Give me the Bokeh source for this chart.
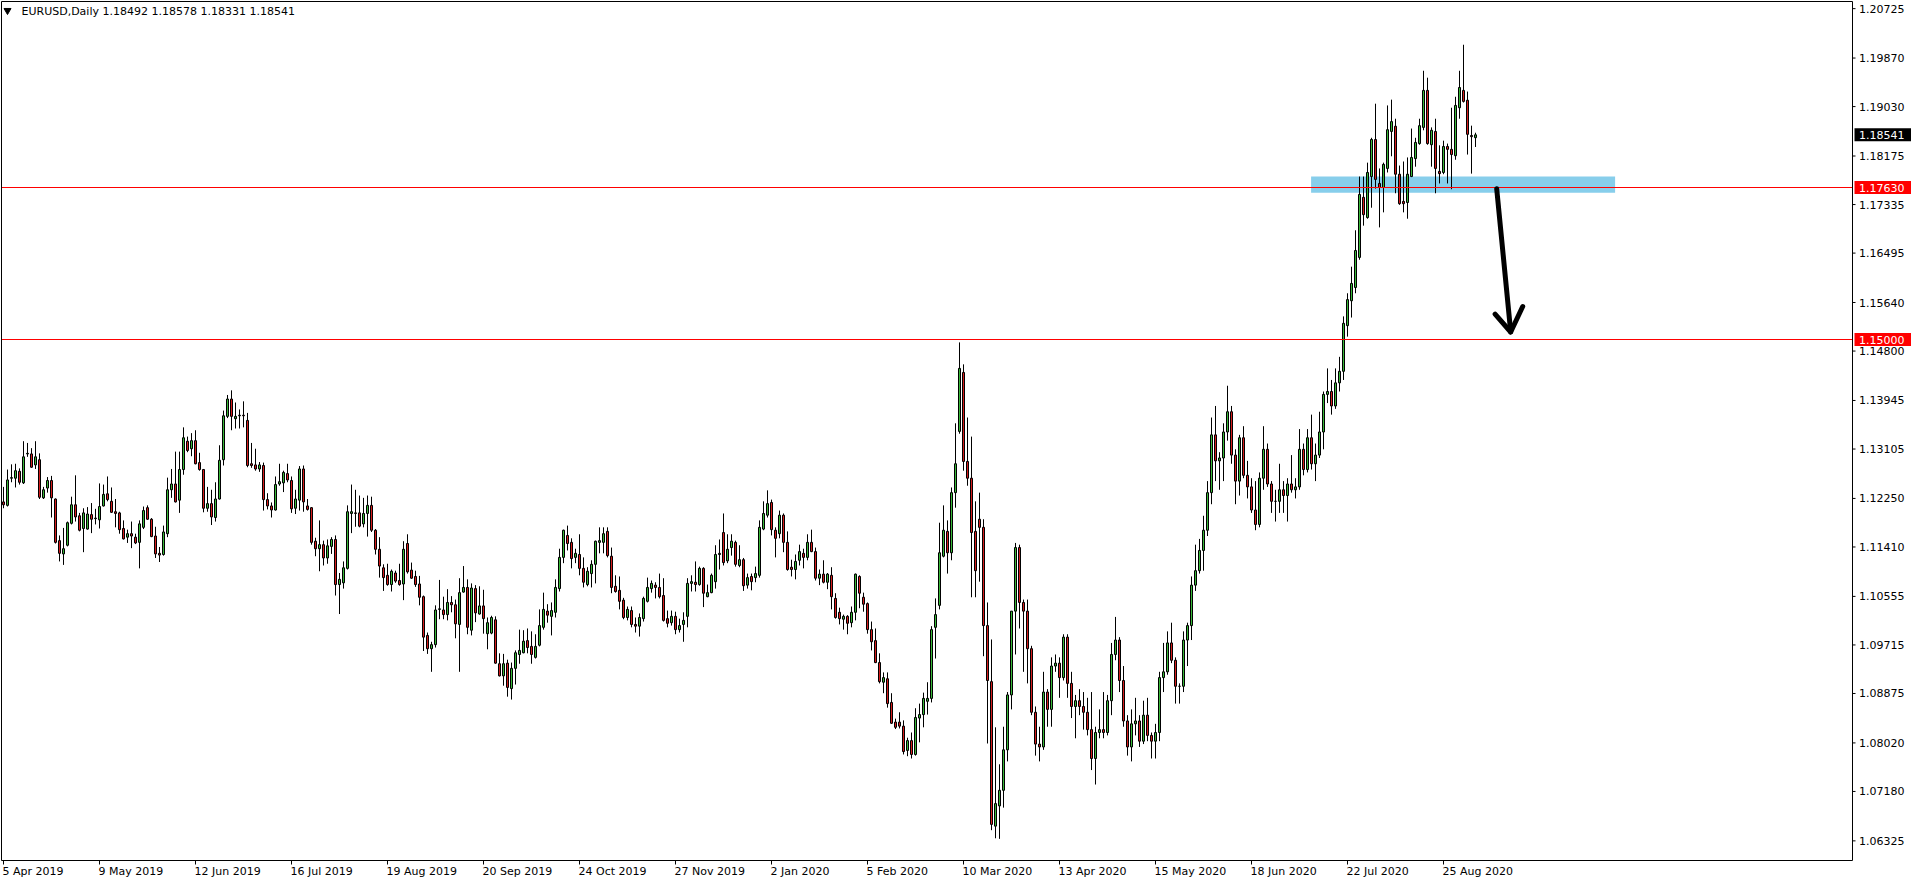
import numpy as np
from bokeh.plotting import figure
from bokeh.models import Range1d, ColumnDataSource
from bokeh.core.properties import value
from bokeh.embed import file_html
from bokeh.resources import INLINE

# ---------------- data (EURUSD daily) ----------------
opens = [
1.1219,1.1213,1.1260,1.1260,1.1272,1.1252,1.1302,1.1302,1.1283,1.1292,
1.1226,1.1243,1.1256,1.1224,1.1152,1.1129,1.1144,1.1182,1.1214,1.1195,
1.1173,1.1172,1.1197,1.1190,1.1188,1.1212,1.1233,1.1220,1.1202,1.1200,
1.1173,1.1158,1.1164,1.1158,1.1149,1.1175,1.1209,1.1189,1.1160,1.1130,
1.1128,1.1164,1.1240,1.1250,1.1222,1.1275,1.1324,1.1311,1.1325,1.1287,
1.1275,1.1208,1.1216,1.1192,1.1224,1.1292,1.1367,1.1397,1.1363,1.1368,
1.1369,1.1360,1.1285,1.1283,1.1276,1.1282,1.1223,1.1212,1.1205,1.1250,
1.1252,1.1268,1.1256,1.1208,1.1222,1.1276,1.1212,1.1209,1.1151,1.1138,
1.1145,1.1122,1.1142,1.1154,1.1076,1.1079,1.1104,1.1199,1.1200,1.1200,
1.1181,1.1199,1.1213,1.1170,1.1137,1.1105,1.1092,1.1076,1.1096,1.1083,
1.1077,1.1147,1.1101,1.1090,1.1077,1.1055,1.0988,1.0965,1.0972,1.1033,
1.1032,1.1024,1.1045,1.1041,1.1007,1.1063,1.1071,1.0997,1.1069,1.1025,
1.1039,1.0991,1.0992,1.1015,1.0939,1.0918,1.0940,1.0896,1.0931,1.0955,
1.0958,1.0979,1.0969,1.0950,1.0971,1.1002,1.1030,1.1021,1.1028,1.1069,
1.1123,1.1161,1.1149,1.1123,1.1128,1.1104,1.1076,1.1095,1.1111,1.1149,
1.1149,1.1168,1.1125,1.1073,1.1066,1.1049,1.1019,1.1031,1.1007,1.1004,
1.1017,1.1047,1.1069,1.1075,1.1071,1.1057,1.1017,1.1010,1.1021,1.0998,
1.1007,1.1021,1.1078,1.1080,1.1076,1.1104,1.1055,1.1062,1.1081,1.1128,
1.1166,1.1117,1.1140,1.1149,1.1109,1.1119,1.1075,1.1090,1.1088,1.1092,
1.1172,1.1196,1.1218,1.1170,1.1164,1.1196,1.1149,1.1106,1.1102,1.1118,
1.1130,1.1123,1.1149,1.1133,1.1087,1.1094,1.1080,1.1092,1.1052,1.1028,
1.1016,1.1021,1.1010,1.1028,1.1090,1.1054,1.1043,1.0998,1.0979,1.0941,
1.0907,1.0913,1.0872,1.0838,1.0838,1.0831,1.0789,1.0806,1.0782,1.0845,
1.0851,1.0874,1.0879,1.1002,1.1040,1.1125,1.1168,1.1131,1.1235,1.1341,
1.1443,1.1289,1.1260,1.1168,1.1189,1.1175,1.1005,1.0908,1.0658,1.0693,
1.0720,1.0790,1.0885,1.1030,1.1140,1.1045,1.1030,1.0965,1.0855,1.0800,
1.0795,1.0890,1.0860,1.0935,1.0940,1.0915,1.0985,1.0905,1.0865,1.0875,
1.0865,1.0855,1.0825,1.0775,1.0820,1.0825,1.0820,1.0875,1.0955,1.0980,
1.0910,1.0840,1.0795,1.0835,1.0840,1.0805,1.0850,1.0815,1.0805,1.0820,
1.0915,1.0925,1.0975,1.0945,1.0900,1.0900,1.0980,1.1005,1.1075,1.1100,
1.1135,1.1170,1.1235,1.1335,1.1290,1.1295,1.1340,1.1375,1.1300,1.1255,
1.1330,1.1265,1.1245,1.1205,1.1180,1.1260,1.1310,1.1250,1.1220,1.1220,
1.1240,1.1230,1.1250,1.1240,1.1245,1.1310,1.1275,1.1330,1.1285,1.1300,
1.1340,1.1405,1.1410,1.1385,1.1425,1.1445,1.1524,1.1567,1.1590,1.1642,
1.1746,1.1711,1.1782,1.1846,1.1770,1.1763,1.1796,1.1860,1.1869,1.1786,
1.1739,1.1737,1.1782,1.1813,1.1839,1.1867,1.1931,1.1837,1.1860,1.1791,
1.1789,1.1834,1.1829,1.1818,1.1901,1.1931,1.1914,1.1853,1.18492]
highs = [
1.1245,1.1275,1.1284,1.1285,1.1277,1.1324,1.1321,1.1312,1.1324,1.1303,
1.1245,1.1262,1.1264,1.1225,1.1161,1.1174,1.1185,1.1228,1.1265,1.1200,
1.1208,1.1210,1.1217,1.1207,1.1251,1.1249,1.1263,1.1244,1.1224,1.1202,
1.1187,1.1171,1.1185,1.1164,1.1187,1.1211,1.1213,1.1191,1.1176,1.1141,
1.1178,1.1261,1.1276,1.1306,1.1306,1.1348,1.1332,1.1338,1.1343,1.1304,
1.1276,1.1245,1.1240,1.1253,1.1317,1.1377,1.1404,1.1412,1.1391,1.1379,
1.1393,1.1373,1.1321,1.1311,1.1288,1.1287,1.1234,1.1218,1.1263,1.1285,
1.1273,1.1285,1.1263,1.1240,1.1281,1.1282,1.1224,1.1210,1.1157,1.1187,
1.1152,1.1154,1.1158,1.1161,1.1096,1.1116,1.1213,1.1249,1.1240,1.1230,
1.1226,1.1230,1.1228,1.1172,1.1158,1.1111,1.1112,1.1102,1.1100,1.1112,
1.1151,1.1163,1.1114,1.1100,1.1091,1.1057,1.0993,1.0977,1.1040,1.1084,
1.1055,1.1068,1.1056,1.1050,1.1087,1.1108,1.1085,1.1078,1.1075,1.1073,
1.1067,1.1019,1.1022,1.1021,1.0957,1.0956,1.0946,1.0941,1.0962,1.0998,
1.0997,1.1000,1.0995,1.0990,1.1033,1.1062,1.1042,1.1045,1.1085,1.1138,
1.1171,1.1178,1.1156,1.1138,1.1163,1.1123,1.1106,1.1118,1.1152,1.1175,
1.1175,1.1175,1.1140,1.1092,1.1090,1.1053,1.1038,1.1038,1.1019,1.1026,
1.1055,1.1088,1.1083,1.1080,1.1095,1.1087,1.1031,1.1031,1.1029,1.1017,
1.1028,1.1087,1.1092,1.1116,1.1107,1.1106,1.1076,1.1095,1.1144,1.1154,
1.1199,1.1163,1.1163,1.1152,1.1144,1.1122,1.1095,1.1095,1.1107,1.1187,
1.1220,1.1239,1.1223,1.1175,1.1204,1.1199,1.1168,1.1119,1.1128,1.1145,
1.1138,1.1163,1.1171,1.1140,1.1102,1.1118,1.1096,1.1106,1.1061,1.1036,
1.1024,1.1023,1.1038,1.1095,1.1092,1.1062,1.1045,1.1012,1.1000,1.0957,
1.0924,1.0924,1.0888,1.0844,1.0855,1.0841,1.0811,1.0820,1.0862,1.0870,
1.0889,1.0907,1.1004,1.1052,1.1183,1.1213,1.1187,1.1244,1.1355,1.1495,
1.1457,1.1365,1.1332,1.1220,1.1235,1.1189,1.1045,1.0981,1.0829,1.0765,
1.0830,1.0890,1.1030,1.1148,1.1145,1.1050,1.1050,1.0970,1.0865,1.0830,
1.0925,1.0895,1.0950,1.0955,1.0950,1.0990,1.0990,1.0925,1.0885,1.0895,
1.0890,1.0880,1.0890,1.0830,1.0860,1.0890,1.0885,1.0975,1.1020,1.0985,
1.0935,1.0850,1.0860,1.0880,1.0850,1.0875,1.0880,1.0820,1.0835,1.0925,
1.0975,1.0995,1.1010,1.0950,1.0905,1.0995,1.1010,1.1090,1.1145,1.1155,
1.1195,1.1255,1.1365,1.1385,1.1305,1.1355,1.1420,1.1385,1.1310,1.1335,
1.1350,1.1290,1.1260,1.1255,1.1270,1.1350,1.1320,1.1255,1.1240,1.1285,
1.1255,1.1260,1.1300,1.1260,1.1345,1.1320,1.1345,1.1370,1.1320,1.1375,
1.1410,1.1450,1.1430,1.1450,1.1470,1.1540,1.1580,1.1626,1.1689,1.1782,
1.1782,1.1806,1.1849,1.1908,1.1796,1.1806,1.1905,1.1915,1.1882,1.1801,
1.1808,1.1815,1.1865,1.1849,1.1882,1.1965,1.1953,1.1867,1.1882,1.1836,
1.1844,1.1839,1.1901,1.1920,1.1965,1.2010,1.1929,1.1870,1.18578]
lows = [
1.1208,1.1211,1.1253,1.1244,1.1249,1.1250,1.1297,1.1278,1.1276,1.1224,
1.1224,1.1235,1.1192,1.1147,1.1116,1.1110,1.1142,1.1180,1.1185,1.1168,
1.1132,1.1171,1.1165,1.1180,1.1173,1.1211,1.1220,1.1200,1.1175,1.1164,
1.1154,1.1148,1.1139,1.1146,1.1104,1.1172,1.1188,1.1158,1.1122,1.1115,
1.1126,1.1158,1.1226,1.1218,1.1200,1.1266,1.1305,1.1298,1.1284,1.1273,
1.1201,1.1202,1.1179,1.1185,1.1223,1.1282,1.1364,1.1343,1.1346,1.1346,
1.1348,1.1279,1.1278,1.1273,1.1271,1.1204,1.1206,1.1192,1.1204,1.1247,
1.1236,1.1253,1.1200,1.1198,1.1204,1.1202,1.1204,1.1145,1.1125,1.1099,
1.1109,1.1112,1.1129,1.1057,1.1025,1.1069,1.1102,1.1165,1.1176,1.1175,
1.1175,1.1159,1.1167,1.1128,1.1088,1.1065,1.1074,1.1064,1.1079,1.1074,
1.1049,1.1095,1.1086,1.1072,1.1040,1.0961,1.0956,1.0925,1.0967,1.1016,
1.1016,1.1014,1.1028,1.0983,1.0925,1.1062,1.0990,1.0988,1.1011,1.1024,
1.0991,1.0964,1.0990,1.0939,1.0917,1.0901,1.0882,1.0877,1.0903,1.0939,
1.0957,1.0957,1.0939,1.0948,1.0969,1.0998,1.1010,1.0988,1.1019,1.1064,
1.1113,1.1135,1.1104,1.1113,1.1092,1.1071,1.1073,1.1071,1.1078,1.1130,
1.1130,1.1123,1.1061,1.1062,1.1033,1.1016,1.1014,1.1002,1.0993,1.0986,
1.1012,1.1045,1.1062,1.1052,1.1052,1.1012,1.1002,1.1005,1.0990,1.0993,
1.0977,1.1002,1.1064,1.1064,1.1074,1.1037,1.1054,1.1061,1.1069,1.1102,
1.1109,1.1113,1.1126,1.1107,1.1106,1.1065,1.1069,1.1066,1.1080,1.1088,
1.1170,1.1192,1.1161,1.1123,1.1156,1.1132,1.1100,1.1090,1.1085,1.1109,
1.1104,1.1118,1.1132,1.1083,1.1075,1.1078,1.1068,1.1033,1.1017,1.1007,
1.0998,1.0990,1.1002,1.1014,1.1035,1.1029,1.0991,1.0962,1.0940,1.0905,
1.0888,1.0863,1.0835,1.0826,1.0827,1.0782,1.0779,1.0775,1.0780,1.0803,
1.0829,1.0851,1.0872,1.0948,1.1033,1.1123,1.1095,1.1118,1.1209,1.1337,
1.1273,1.1247,1.1054,1.1054,1.1081,1.0952,1.0801,1.0651,1.0637,1.0636,
1.0690,1.0770,1.0860,1.0955,1.1000,1.0925,1.0905,1.0850,1.0780,1.0770,
1.0790,1.0830,1.0830,1.0925,1.0880,1.0910,1.0880,1.0845,1.0810,1.0850,
1.0825,1.0815,1.0755,1.0730,1.0810,1.0810,1.0815,1.0850,1.0945,1.0890,
1.0830,1.0780,1.0770,1.0815,1.0795,1.0800,1.0805,1.0775,1.0775,1.0805,
1.0890,1.0920,1.0940,1.0870,1.0870,1.0890,1.0935,1.0980,1.1065,1.1095,
1.1100,1.1160,1.1215,1.1255,1.1240,1.1255,1.1325,1.1285,1.1215,1.1230,
1.1260,1.1225,1.1200,1.1170,1.1175,1.1240,1.1245,1.1200,1.1185,1.1200,
1.1200,1.1185,1.1235,1.1225,1.1240,1.1265,1.1270,1.1275,1.1255,1.1295,
1.1310,1.1390,1.1370,1.1380,1.1410,1.1430,1.1505,1.1538,1.1580,1.1638,
1.1697,1.1709,1.1728,1.1761,1.1694,1.1720,1.1789,1.1817,1.1753,1.1733,
1.1720,1.1709,1.1781,1.1799,1.1837,1.1862,1.1837,1.1799,1.1753,1.1770,
1.1786,1.1770,1.1760,1.1811,1.1882,1.1910,1.1820,1.1787,1.18331]
closes = [
1.1214,1.1257,1.1261,1.1273,1.1253,1.1297,1.1303,1.1279,1.1297,1.1227,
1.1240,1.1256,1.1226,1.1149,1.1130,1.1138,1.1183,1.1214,1.1193,1.1170,
1.1200,1.1198,1.1189,1.1191,1.1211,1.1232,1.1223,1.1201,1.1199,1.1171,
1.1155,1.1164,1.1160,1.1148,1.1181,1.1204,1.1189,1.1159,1.1129,1.1127,
1.1167,1.1240,1.1250,1.1219,1.1275,1.1330,1.1308,1.1325,1.1285,1.1275,
1.1208,1.1216,1.1193,1.1224,1.1291,1.1368,1.1397,1.1367,1.1367,1.1369,
1.1368,1.1282,1.1282,1.1276,1.1283,1.1223,1.1212,1.1205,1.1249,1.1254,
1.1270,1.1257,1.1207,1.1224,1.1276,1.1219,1.1206,1.1149,1.1138,1.1145,
1.1122,1.1143,1.1154,1.1076,1.1085,1.1105,1.1202,1.1202,1.1199,1.1177,
1.1199,1.1213,1.1170,1.1137,1.1108,1.1088,1.1076,1.1099,1.1082,1.1076,
1.1137,1.1098,1.1087,1.1076,1.1054,1.0985,1.0965,1.0972,1.1032,1.1034,
1.1024,1.1045,1.1041,1.1008,1.1062,1.1071,1.1002,1.1070,1.1027,1.1039,
1.1017,1.1010,1.1019,1.0940,1.0918,1.0939,1.0898,1.0931,1.0958,1.0962,
1.0978,1.0967,1.0955,1.0969,1.1005,1.1033,1.1023,1.1031,1.1071,1.1123,
1.1170,1.1147,1.1121,1.1130,1.1104,1.1080,1.1099,1.1111,1.1151,1.1152,
1.1164,1.1126,1.1071,1.1064,1.1047,1.1019,1.1033,1.1007,1.1004,1.1019,
1.1052,1.1071,1.1078,1.1071,1.1055,1.1014,1.1009,1.1021,1.0998,1.1005,
1.1014,1.1078,1.1081,1.1076,1.1104,1.1061,1.1062,1.1092,1.1128,1.1130,
1.1114,1.1137,1.1151,1.1111,1.1119,1.1074,1.1088,1.1081,1.1095,1.1175,
1.1199,1.1216,1.1171,1.1156,1.1196,1.1149,1.1102,1.1102,1.1116,1.1133,
1.1123,1.1149,1.1133,1.1087,1.1094,1.1080,1.1094,1.1055,1.1019,1.1017,
1.1021,1.1009,1.1028,1.1094,1.1061,1.1042,1.0998,1.0977,1.0941,1.0908,
1.0915,1.0870,1.0836,1.0829,1.0831,1.0787,1.0806,1.0782,1.0846,1.0851,
1.0879,1.0879,1.0998,1.1024,1.1131,1.1170,1.1131,1.1235,1.1285,1.1450,
1.1289,1.1260,1.1166,1.1100,1.1175,1.1005,1.0910,1.0661,1.0697,1.0720,
1.0790,1.0885,1.1030,1.1140,1.1045,1.1030,1.0965,1.0855,1.0800,1.0795,
1.0890,1.0860,1.0935,1.0940,1.0915,1.0985,1.0905,1.0865,1.0875,1.0865,
1.0855,1.0825,1.0775,1.0820,1.0825,1.0820,1.0875,1.0955,1.0980,1.0910,
1.0840,1.0795,1.0835,1.0840,1.0805,1.0850,1.0815,1.0805,1.0820,1.0915,
1.0925,1.0975,1.0945,1.0900,1.0900,1.0980,1.1005,1.1075,1.1100,1.1135,
1.1170,1.1235,1.1335,1.1290,1.1295,1.1340,1.1375,1.1300,1.1255,1.1330,
1.1265,1.1245,1.1205,1.1180,1.1260,1.1310,1.1250,1.1220,1.1220,1.1240,
1.1230,1.1250,1.1240,1.1245,1.1310,1.1275,1.1330,1.1285,1.1300,1.1340,
1.1405,1.1410,1.1385,1.1425,1.1445,1.1528,1.1569,1.1597,1.1654,1.1751,
1.1716,1.1789,1.1846,1.1777,1.1763,1.1803,1.1863,1.1877,1.1786,1.1735,
1.1735,1.1786,1.1815,1.1841,1.1870,1.1931,1.1839,1.1862,1.1796,1.1787,
1.1834,1.1829,1.1820,1.1905,1.1936,1.1912,1.1855,1.1851,1.18541]

date_idx = [0, 24, 48, 72, 96, 120, 144, 168, 192, 216, 240, 264, 288, 312, 336, 360]
date_text = ["5 Apr 2019", "9 May 2019", "12 Jun 2019", "16 Jul 2019", "19 Aug 2019",
             "20 Sep 2019", "24 Oct 2019", "27 Nov 2019", "2 Jan 2020", "5 Feb 2020",
             "10 Mar 2020", "13 Apr 2020", "15 May 2020", "18 Jun 2020", "22 Jul 2020",
             "25 Aug 2020"]
price_ticks = [1.20725, 1.19870, 1.19030, 1.18175, 1.17335, 1.16495, 1.15640, 1.14800,
               1.13945, 1.13105, 1.12250, 1.11410, 1.10555, 1.09715, 1.08875, 1.08020,
               1.07180, 1.06325]
level_lines = [1.17630, 1.15000]
last_price = 1.18541
symbol_text = "EURUSD,Daily"
# drawn objects (bar index, price)
zone_x = [326.9, 402.9]
zone_y = [1.1754, 1.1782]
arrow_shaft_x = [373.3, 376.8]
arrow_shaft_y = [1.1761, 1.1513]
arrow_head_x = [372.9, 376.8, 379.8]
arrow_head_y = [1.1544, 1.1513, 1.1557]

# ---------------- layout: the frame covers the whole page, the price and time
# scales of the terminal are drawn through the same data scales ----------------
W, H = 1916, 884
BAR_PX = 4.0                       # horizontal pixels per daily bar
X0_PX = 3.5                        # pixel centre of bar 0
ppu = 152.0 / (level_lines[0] - level_lines[1])   # pixels per price unit
y_top = level_lines[0] + 187.5 / ppu               # price at the top page edge

def bx(px):   # page x pixel -> bar coordinate
    return (px - X0_PX) / BAR_PX

def py(px):   # page y pixel -> price coordinate
    return y_top - px / ppu

CH_L, CH_T, CH_R, CH_B = 1.5, 1.5, 1852.5, 860.5   # chart box edges (px)

FONT = value("DejaVu Sans")
FS = value("11px")
UP, DOWN = "#38b838", "#d41c1c"

# ranges shifted by half a pixel so 1px strokes fall on whole pixels
p = figure(width=W, height=H, output_backend="svg", toolbar_location=None,
           x_range=Range1d(bx(0.5), bx(W + 0.5)), y_range=Range1d(py(H + 0.5), py(0.5)),
           x_axis_location=None, y_axis_location=None,
           min_border_left=0, min_border_right=0, min_border_top=0, min_border_bottom=0)
p.grid.visible = False
p.outline_line_color = None
p.background_fill_color = "white"
p.border_fill_color = "white"

# zone (background rectangle)
p.quad(left=[zone_x[0]], right=[zone_x[1]], bottom=[zone_y[0]], top=[zone_y[1]],
       fill_color="#87ceeb", line_color=None)

# candles
o = np.array(opens); h = np.array(highs); l = np.array(lows); c = np.array(closes)
idx = np.arange(len(o))
src = ColumnDataSource(dict(
    x=idx, h=h, l=l,
    top=np.maximum(o, c), bottom=np.minimum(o, c),
    color=[UP if cc >= oo else DOWN for oo, cc in zip(o, c)]))
p.segment(x0="x", y0="l", x1="x", y1="h", source=src, line_color="black", line_width=1)
p.vbar(x="x", width=2.0 / BAR_PX, top="top", bottom="bottom", source=src,
       fill_color="color", line_color="black", line_width=1)

# horizontal levels
n_lv = len(level_lines)
p.segment(x0=[bx(CH_L)] * n_lv, x1=[bx(CH_R)] * n_lv, y0=level_lines, y1=level_lines,
          line_color="#ff0000", line_width=1)

# hand-drawn arrow
p.line(arrow_shaft_x, arrow_shaft_y, line_color="black", line_width=5, line_cap="round")
p.line(arrow_head_x, arrow_head_y, line_color="black", line_width=5, line_cap="round",
       line_join="round")

# chart box
p.quad(left=[bx(CH_L)], right=[bx(CH_R)], top=[py(CH_T)], bottom=[py(CH_B)],
       fill_color=None, line_color="black", line_width=1)

# price scale (right)
n_pt = len(price_ticks)
p.segment(x0=[bx(CH_R)] * n_pt, x1=[bx(CH_R + 3)] * n_pt, y0=price_ticks, y1=price_ticks,
          line_color="black", line_width=1)
p.text(x=[bx(1859)] * n_pt, y=price_ticks, text=[f"{v:.5f}" for v in price_ticks],
       text_font=FONT, text_font_size=FS, text_color="black",
       text_align="left", text_baseline="middle")

# price tags on the scale
tag_vals = level_lines + [last_price]
tag_cols = ["#ff0000"] * n_lv + ["black"]
half = 6.5 / ppu
p.quad(left=[bx(1854.5)] * len(tag_vals), right=[bx(1911)] * len(tag_vals),
       top=[v + half for v in tag_vals], bottom=[v - half for v in tag_vals],
       fill_color=tag_cols, line_color=None)
p.text(x=[bx(1859)] * len(tag_vals), y=tag_vals, text=[f"{v:.5f}" for v in tag_vals],
       text_font=FONT, text_font_size=FS, text_color="white",
       text_align="left", text_baseline="middle")

# time scale (bottom)
n_d = len(date_idx)
p.segment(x0=date_idx, x1=date_idx, y0=[py(CH_B)] * n_d, y1=[py(CH_B + 4)] * n_d,
          line_color="black", line_width=1)
p.text(x=[i - 1.0 / BAR_PX for i in date_idx], y=[py(871.5)] * n_d, text=date_text,
       text_font=FONT, text_font_size=FS, text_color="black",
       text_align="left", text_baseline="middle")

# header
p.scatter([bx(7.5)], [py(10.5)], marker="inverted_triangle", size=7,
          fill_color="black", line_color="black")
p.text(x=[bx(21.5)], y=[py(11)], text=[symbol_text],
       text_font=FONT, text_font_size=FS, text_color="black",
       text_align="left", text_baseline="middle")
p.text(x=[bx(102.5)], y=[py(11)],
       text=[f"{opens[-1]:.5f} {highs[-1]:.5f} {lows[-1]:.5f} {closes[-1]:.5f}"],
       text_font=FONT, text_font_size=FS, text_color="black",
       text_align="left", text_baseline="middle")

open("out.html", "w").write(file_html(p, INLINE))
